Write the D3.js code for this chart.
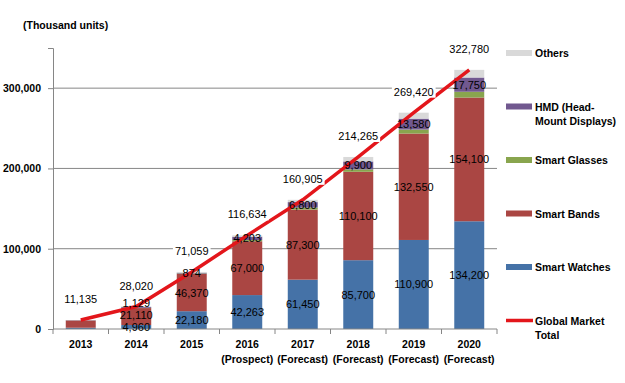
<!DOCTYPE html>
<html lang="en">
<head>
  <meta charset="UTF-8" />
  <title>Wearable devices</title>
  <script src="https://cdn.jsdelivr.net/npm/d3@7"></script>
  <style>
    body { margin: 0; background: #fff; }
    text { font-family: "Liberation Sans", Arial, sans-serif; fill: #000; }
    .bold { font-weight: bold; }
  </style>
</head>
<body>
<script>
  const width = 625;
  const height = 383;

  // data (thousand units)
  const years = ['2013', '2014', '2015', '2016', '2017', '2018', '2019', '2020'];
  const subLabels = ['', '', '', '(Prospect)', '(Forecast)', '(Forecast)', '(Forecast)', '(Forecast)'];
  const watches = [1600, 4960, 22180, 42263, 61450, 85700, 110900, 134200];
  const bands = [9000, 21110, 46370, 67000, 87300, 110100, 132550, 154100];
  const glasses = [100, 300, 600, 1500, 2500, 3000, 5000, 7200];
  const hmd = [300, 1129, 874, 4203, 6800, 9900, 13580, 17750];
  const others = [135, 521, 1035, 1668, 2855, 5565, 7390, 9530];
  const totals = [11135, 28020, 71059, 116634, 160905, 214265, 269420, 322780];
  const yTicks = [0, 100000, 200000, 300000];

  const seriesKeys = ['watches', 'bands', 'glasses', 'hmd', 'others'];
  const seriesNames = ['Smart Watches', 'Smart Bands', 'Smart Glasses', 'HMD (Head-|Mount Displays)', 'Others'];
  const colors = ['#4572a7', '#aa4643', '#89a54e', '#71588f', '#d9d9d9'];
  const labelled = ['watches', 'bands', 'hmd'];

  const rows = years.map((y, i) => ({
    year: y, watches: watches[i], bands: bands[i], glasses: glasses[i],
    hmd: hmd[i], others: others[i], total: totals[i]
  }));

  const margin = { left: 53, right: 128, top: 48, bottom: 54 };
  const svg = d3.select('body').append('svg')
    .attr('width', width).attr('height', height);

  const x = d3.scaleBand().domain(years)
    .range([margin.left, width - margin.right])
    .paddingInner(0.46).paddingOuter(0.23);
  const y = d3.scaleLinear().domain([0, 350000])
    .range([height - margin.bottom, margin.top]);

  const fmt = d3.format(',');

  // gridlines
  svg.append('g').selectAll('line')
    .data(yTicks.filter(d => d > 0))
    .join('line')
    .attr('x1', margin.left).attr('x2', width - margin.right)
    .attr('y1', d => y(d)).attr('y2', d => y(d))
    .attr('stroke', '#868686');

  // y axis
  const yAxis = svg.append('g')
    .attr('transform', `translate(${margin.left},0)`)
    .call(d3.axisLeft(y).tickValues(yTicks).tickSize(5).tickFormat(fmt));
  yAxis.select('.domain').attr('stroke', '#868686');
  yAxis.selectAll('.tick line').attr('stroke', '#868686');
  yAxis.selectAll('.tick text').attr('class', 'bold').attr('font-size', 10.5)
    .attr('x', -12).style('font-family', '"Liberation Sans", Arial, sans-serif');

  svg.append('text').attr('class', 'bold')
    .attr('x', 23).attr('y', 29).attr('font-size', 10.5)
    .text('(Thousand units)');

  // stacked bars
  const stack = d3.stack().keys(seriesKeys)(rows);
  svg.append('g').selectAll('g')
    .data(stack)
    .join('g')
    .attr('fill', (d, i) => colors[i])
    .selectAll('rect')
    .data(d => d)
    .join('rect')
    .attr('x', d => x(d.data.year))
    .attr('width', x.bandwidth())
    .attr('y', d => y(d[1]))
    .attr('height', d => y(d[0]) - y(d[1]));

  // x axis
  const baseY = y(0);
  svg.append('line')
    .attr('x1', margin.left).attr('x2', width - margin.right)
    .attr('y1', baseY).attr('y2', baseY).attr('stroke', '#868686');
  const half = x.step() * x.paddingInner() / 2;
  const bounds = years.map(d => x(d) - half).concat([x(years[years.length - 1]) + x.bandwidth() + half]);
  svg.append('g').selectAll('line')
    .data(bounds)
    .join('line')
    .attr('x1', d => d).attr('x2', d => d)
    .attr('y1', baseY).attr('y2', baseY + 5)
    .attr('stroke', '#868686');
  const xl = svg.append('g').selectAll('text')
    .data(years)
    .join('text')
    .attr('class', 'bold')
    .attr('font-size', 10.5)
    .attr('text-anchor', 'middle')
    .attr('x', d => x(d) + x.bandwidth() / 2)
    .attr('y', baseY + 19);
  xl.append('tspan').text(d => d);
  xl.append('tspan')
    .attr('x', d => x(d) + x.bandwidth() / 2)
    .attr('dy', 15)
    .text((d, i) => subLabels[i]);

  // total line
  const cx = d => x(d.year) + x.bandwidth() / 2;
  svg.append('path')
    .datum(rows)
    .attr('fill', 'none')
    .attr('stroke', '#e3161b')
    .attr('stroke-width', 3.5)
    .attr('d', d3.line().x(cx).y(d => y(d.total)));

  // segment labels, pushed up when they would collide
  const labelLayer = svg.append('g');
  rows.forEach((r, i) => {
    let last = Infinity;
    if (i > 0) {
      stack.forEach(s => {
        if (!labelled.includes(s.key)) return;
        const seg = s[i];
        let ly = (y(seg[0]) + y(seg[1])) / 2;
        if (ly > last - 12) ly = last - 12;
        last = ly;
        labelLayer.append('text')
          .attr('font-size', 11)
          .attr('text-anchor', 'middle')
          .attr('dominant-baseline', 'central')
          .attr('x', cx(r)).attr('y', ly)
          .text(fmt(r[s.key]));
      });
    }
    let ty = y(r.total) - 21;
    if (ty > last - 14) ty = last - 14;
    const t = labelLayer.append('text')
      .attr('font-size', 11)
      .attr('text-anchor', 'middle')
      .attr('dominant-baseline', 'central')
      .attr('x', cx(r)).attr('y', ty)
      .text(fmt(r.total));
    const bb = t.node().getBBox();
    labelLayer.insert('rect', () => t.node())
      .attr('x', bb.x - 2).attr('y', bb.y)
      .attr('width', bb.width + 4).attr('height', bb.height)
      .attr('fill', '#fff');
  });

  // legend
  const legendItems = seriesNames.map((n, i) => ({ name: n, color: colors[i], line: false }))
    .reverse()
    .concat([{ name: 'Global Market|Total', color: '#e3161b', line: true }]);
  const legend = svg.append('g').selectAll('g')
    .data(legendItems)
    .join('g')
    .attr('transform', (d, i) => `translate(506,${53 + i * 53.5})`);
  legend.filter(d => !d.line).append('rect')
    .attr('x', 0).attr('y', -3).attr('width', 26).attr('height', 6)
    .attr('fill', d => d.color);
  legend.filter(d => d.line).append('line')
    .attr('x1', 0).attr('x2', 27).attr('y1', 0).attr('y2', 0)
    .attr('stroke', d => d.color).attr('stroke-width', 3.5);
  const lt = legend.append('text')
    .attr('class', 'bold')
    .attr('font-size', 10.5)
    .attr('x', 29)
    .attr('y', 4);
  lt.selectAll('tspan')
    .data(d => d.name.split('|'))
    .join('tspan')
    .attr('x', 29)
    .attr('dy', (d, i) => i ? 14 : 0)
    .text(d => d);
</script>
</body>
</html>
